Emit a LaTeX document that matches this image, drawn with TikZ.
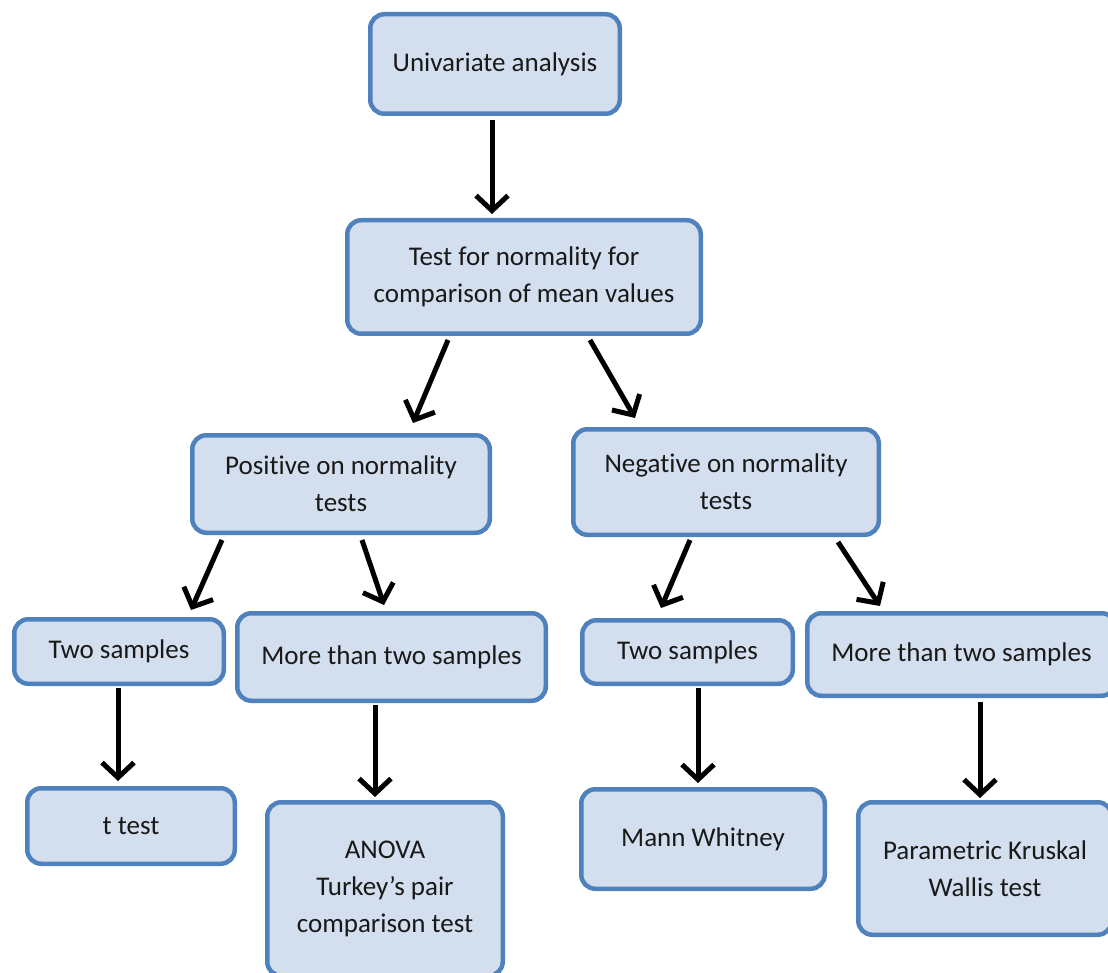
\documentclass[tikz,border=0pt]{standalone}
\usepackage{fontspec}
\setmainfont{Carlito}[Ligatures=NoCommon]
\usetikzlibrary{arrows.meta,calc}
\definecolor{boxfill}{HTML}{D3DFEE}
\definecolor{boxline}{HTML}{4F81BD}
\begin{document}
\begin{tikzpicture}[x=1pt,y=-1pt,
  box/.style={draw=boxline, fill=boxfill, line width=4.5pt, rounded corners=14pt,
    align=center, inner sep=0pt, font=\fontsize{27}{37}\selectfont, text=black!90},
  arr/.style={line width=5pt, -{Straight Barb[length=15pt,width=32pt,line width=5pt]}}]
\useasboundingbox (0,0) rectangle (1108,973);
\clip (0,0) rectangle (1108,973);

\node[box, minimum width=249.5pt, minimum height=99.5pt] (b1) at (495,64) {Univariate analysis};
\node[box, minimum width=353.5pt, minimum height=113.5pt] (b2) at (524,277) {Test for normality for\\comparison of mean values};
\node[box, minimum width=297.5pt, minimum height=97.5pt] (b3) at (341,484) {Positive on normality\\tests};
\node[box, minimum width=305.5pt, minimum height=105.5pt] (b4) at (726,482) {Negative on normality\\tests};
\node[box, minimum width=209.5pt, minimum height=64.5pt] (b5) at (119,651.5) {Two samples};
\node[box, minimum width=308.5pt, minimum height=87.5pt] (b6) at (391.5,657) {More than two samples};
\node[box, minimum width=210.5pt, minimum height=63.5pt] (b7) at (687.5,652) {Two samples};
\node[box, minimum width=308.5pt, minimum height=82.5pt] (b8) at (961.5,654.5) {More than two samples};
\node[box, minimum width=207.5pt, minimum height=75.5pt] (b9) at (131,826) {t test};
\node[box, minimum width=235.5pt, minimum height=173.5pt] (b10) at (385,889) {ANOVA\\Turkey’s pair\\comparison test};
\node[box, minimum width=243.5pt, minimum height=99.5pt] (b11) at (703,839) {Mann Whitney};
\node[box, minimum width=253.5pt, minimum height=132.5pt] (b12) at (985,868.5) {Parametric Kruskal\\Wallis test};

\draw[arr] ([xshift=-3pt,yshift=-4pt]b1.south) -- ([xshift=-32pt,yshift=4pt]b2.north);
\draw[arr] ([xshift=-76pt,yshift=-4pt]b2.south) -- ([xshift=72pt,yshift=10pt]b3.north);
\draw[arr] ([xshift=66pt,yshift=-4pt]b2.south) -- ([xshift=-91pt,yshift=9pt]b4.north);
\draw[arr] ([xshift=-119pt,yshift=-5pt]b3.south) -- ([xshift=72pt,yshift=7pt]b5.north);
\draw[arr] ([xshift=21pt,yshift=-5pt]b3.south) -- ([xshift=-7.5pt,yshift=6pt]b6.north);
\draw[arr] ([xshift=-36pt,yshift=-3pt]b4.south) -- ([xshift=-26.5pt,yshift=10pt]b7.north);
\draw[arr] ([xshift=112pt,yshift=-5pt]b4.south) -- ([xshift=-81.5pt,yshift=5pt]b8.north);
\draw[arr] ([xshift=-1pt,yshift=-2pt]b5.south) -- ([xshift=-13pt,yshift=5pt]b9.north);
\draw[arr] ([xshift=-16.5pt,yshift=-2pt]b6.south) -- ([xshift=-10pt,yshift=3pt]b10.north);
\draw[arr] ([xshift=10.5pt,yshift=-2pt]b7.south) -- ([xshift=-5pt,yshift=4pt]b11.north);
\draw[arr] ([xshift=18.5pt,yshift=-4pt]b8.south) -- ([xshift=-5pt,yshift=2pt]b12.north);
\end{tikzpicture}
\end{document}
